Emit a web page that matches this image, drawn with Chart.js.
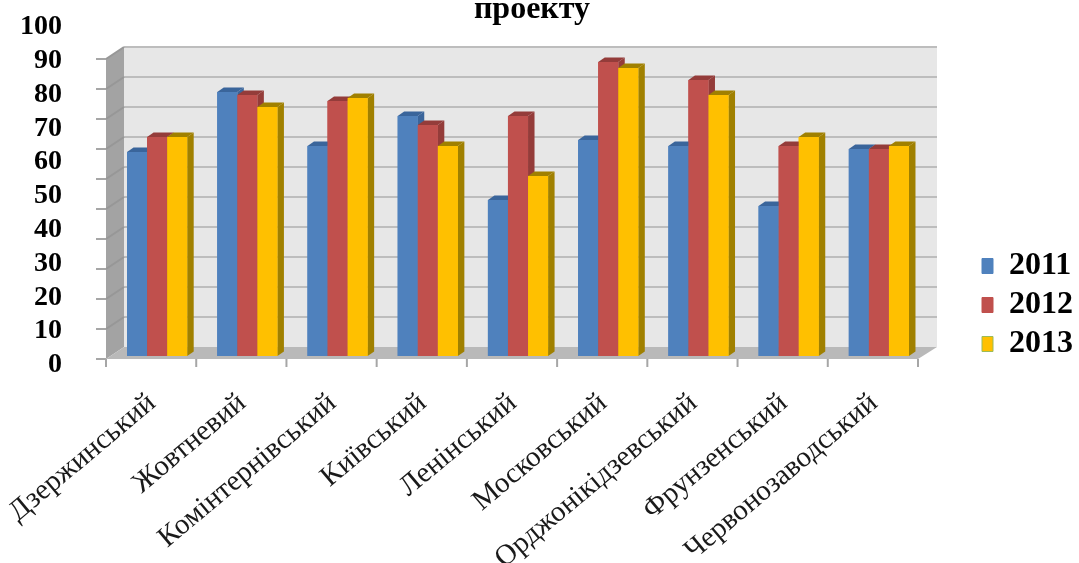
<!DOCTYPE html>
<html>
<head>
<meta charset="utf-8">
<title>Chart</title>
<style>
  html, body { margin: 0; padding: 0; background: #fff; }
  #wrap { width: 1079px; height: 563px; }
  canvas { filter: blur(0.5px); }
</style>
<script src="https://cdn.jsdelivr.net/npm/chart.js@4/dist/chart.umd.min.js"></script>
</head>
<body>
<div id="wrap"><canvas id="chart_canvas"></canvas></div>
<script>
var titleText = 'проекту';
var categories = ['Дзержинський', 'Жовтневий', 'Комінтернівський', 'Київський', 'Ленінський', 'Московський', 'Орджонікідзевський', 'Фрунзенський', 'Червонозаводський'];
var values2011 = [68, 88, 70, 80, 52, 72, 70, 50, 69];
var values2012 = [73, 87, 85, 77, 80, 98, 92, 70, 69];
var values2013 = [73, 83, 86, 70, 60, 96, 87, 73, 70];
var seriesNames = ['2011', '2012', '2013'];
var tickValues = [0, 10, 20, 30, 40, 50, 60, 70, 80, 90, 100];

var faces = ['#4f81bd', '#c0504d', '#ffc000'];
var darkFaces = ['#3a659b', '#943c3a', '#a08000'];
var legendEdges = ['#4f81bd', '#c0504d', '#9bbb59'];

// 3D look of the bars and of the box behind them
var barDepthX = 6.5, barDepthY = 4.5;
var wallDepthX = 18, wallDepthY = 12;
var frontShift = 6; // box front edge sits left of the bar bands
var floorGap = 3;   // box floor sits below the bar base

function poly(ctx, pts, fill) {
    ctx.beginPath();
    ctx.moveTo(pts[0][0], pts[0][1]);
    for (var i = 1; i < pts.length; i++) ctx.lineTo(pts[i][0], pts[i][1]);
    ctx.closePath();
    ctx.fillStyle = fill;
    ctx.fill();
}

var boxPlugin = {
    id: 'box3d',
    afterLayout: function(chart) {
        // legend sits further right than the layout would put it, centred on y=304
        var legend = chart.legend;
        var w = legend.width;
        legend.left = 982 - legend.options.labels.padding;
        legend.right = legend.left + w;
        legend.top = 205;
        legend.bottom = 405;
    },
    beforeDatasetsDraw: function(chart) {
        var ctx = chart.ctx, x = chart.scales.x, y = chart.scales.y;
        var left = x.left - frontShift, right = x.right - frontShift;
        var bottom = y.getPixelForValue(0) + floorGap;
        var top = y.getPixelForValue(100) + floorGap;
        ctx.save();
        // back wall, side wall, floor
        poly(ctx, [[left + wallDepthX, top - wallDepthY], [right + wallDepthX + 1, top - wallDepthY], [right + wallDepthX + 1, bottom - wallDepthY], [left + wallDepthX, bottom - wallDepthY]], '#e7e7e7');
        poly(ctx, [[left, top], [left + wallDepthX, top - wallDepthY], [left + wallDepthX, bottom - wallDepthY], [left, bottom]], '#a3a3a3');
        poly(ctx, [[left, bottom], [left + wallDepthX, bottom - wallDepthY], [right + wallDepthX + 1, bottom - wallDepthY], [right, bottom]], '#b9b9b9');
        // gridlines and value axis ticks
        tickValues.forEach(function(v) {
            var py = y.getPixelForValue(v) + floorGap;
            ctx.lineWidth = 2;
            if (v > 0) {
                ctx.strokeStyle = '#bdbdbd';
                ctx.beginPath();
                ctx.moveTo(left + wallDepthX, py - wallDepthY);
                ctx.lineTo(right + wallDepthX + 1, py - wallDepthY);
                ctx.stroke();
                ctx.strokeStyle = '#979797';
                ctx.beginPath();
                ctx.moveTo(left, py);
                ctx.lineTo(left + wallDepthX, py - wallDepthY);
                ctx.stroke();
            }
            ctx.strokeStyle = '#a6a6a6';
            ctx.beginPath();
            ctx.moveTo(left - 10, py);
            ctx.lineTo(left, py);
            ctx.stroke();
        });
        // category ticks
        ctx.strokeStyle = '#a6a6a6';
        for (var i = 0; i <= categories.length; i++) {
            var tx = left + (right - left) * i / categories.length;
            ctx.beginPath();
            ctx.moveTo(tx, bottom);
            ctx.lineTo(tx, bottom + 8);
            ctx.stroke();
        }
        ctx.restore();
    },
    afterDatasetsDraw: function(chart) {
        var ctx = chart.ctx;
        // left to right so each bar hides the side of its left neighbour
        chart.data.labels.forEach(function(label, c) {
            chart.data.datasets.forEach(function(ds, d) {
                var bar = chart.getDatasetMeta(d).data[c];
                var p = bar.getProps(['x', 'y', 'base', 'width'], true);
                var l = p.x - p.width / 2, r = p.x + p.width / 2;
                poly(ctx, [[r, p.y], [r + barDepthX, p.y - barDepthY], [r + barDepthX, p.base - barDepthY], [r, p.base]], darkFaces[d]);
                poly(ctx, [[l, p.y], [l + barDepthX, p.y - barDepthY], [r + barDepthX, p.y - barDepthY], [r, p.y]], darkFaces[d]);
                bar.draw(ctx);
            });
        });
        // the title is cut by the top of the picture
        ctx.save();
        ctx.font = 'bold 32px "Liberation Serif"';
        ctx.fillStyle = '#000';
        ctx.textAlign = 'center';
        ctx.textBaseline = 'alphabetic';
        ctx.fillText(titleText, 532, 18);
        ctx.restore();
    }
};

function makeDataset(i, values) {
    return {
        label: seriesNames[i],
        data: values,
        yAxisID: 'y',
        backgroundColor: faces[i],
        borderWidth: 0,
        barPercentage: 1,
        categoryPercentage: 0.667
    };
}

new Chart(document.getElementById('chart_canvas'), {
    type: 'bar',
    plugins: [boxPlugin],
    data: {
        labels: categories,
        datasets: [makeDataset(0, values2011), makeDataset(1, values2012), makeDataset(2, values2013)]
    },
    options: {
        responsive: true,
        maintainAspectRatio: false,
        animation: false,
        layout: { padding: { top: 27, right: 47, left: 0, bottom: 0 } },
        plugins: {
            title: { display: false },
            tooltip: { enabled: false },
            legend: {
                position: 'right',
                labels: {
                    boxWidth: 11,
                    boxHeight: 15,
                    padding: 7,
                    color: '#000',
                    font: { family: '"Liberation Serif"', size: 32, weight: 'bold', lineHeight: 1 },
                    generateLabels: function(chart) {
                        return chart.data.datasets.map(function(ds, i) {
                            return { text: ds.label, fillStyle: faces[i], strokeStyle: legendEdges[i], lineWidth: 1, datasetIndex: i, fontColor: '#000' };
                        });
                    }
                }
            }
        },
        scales: {
            x: {
                grid: { display: false },
                border: { display: false },
                afterFit: function(scale) {
                    scale.height = 198;
                    scale.paddingLeft = 0;
                    scale.paddingRight = 0;
                },
                ticks: {
                    maxRotation: 40,
                    minRotation: 40,
                    autoSkip: false,
                    padding: 13,
                    labelOffset: -5,
                    color: '#1a1a1a',
                    font: { family: '"Liberation Serif"', size: 29 }
                }
            },
            // where the bars really are: 3px a unit against the tick marks
            y: {
                display: false,
                min: -3,
                max: 109.67
            },
            // the printed numbers are spaced wider than the tick marks
            yLabels: {
                position: 'left',
                min: 0,
                max: 100,
                grid: { display: false },
                border: { display: false },
                afterFit: function(scale) {
                    scale.width = 112;
                    scale.paddingTop = 0;
                    scale.paddingBottom = 0;
                },
                afterBuildTicks: function(scale) {
                    scale.ticks = tickValues.map(function(v) { return { value: v }; });
                },
                ticks: {
                    autoSkip: false,
                    padding: 42,
                    color: '#000',
                    font: { family: '"Liberation Serif"', size: 28, weight: 'bold' }
                }
            }
        }
    }
});
</script>
</body>
</html>
